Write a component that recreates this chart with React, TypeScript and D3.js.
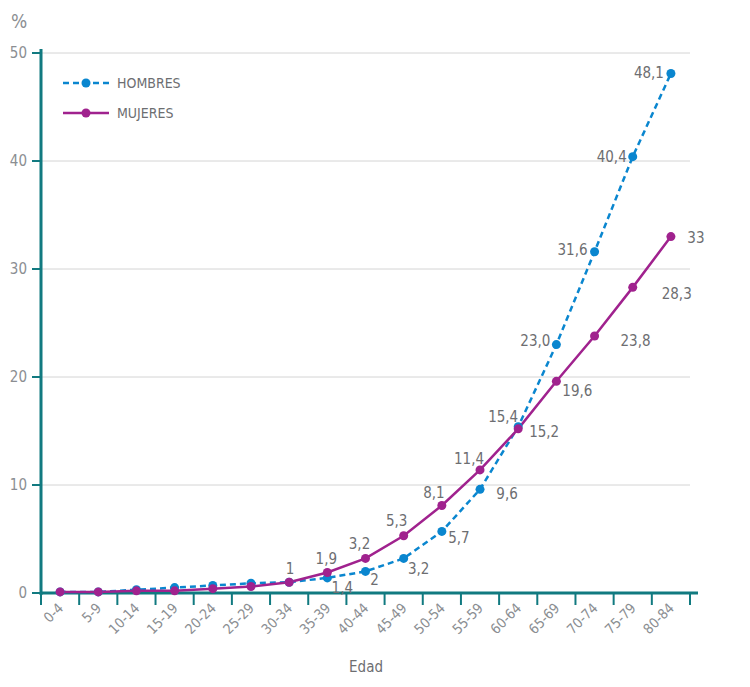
import * as d3 from 'd3'

const ageGroups = ['0-4', '5-9', '10-14', '15-19', '20-24', '25-29', '30-34', '35-39', '40-44', '45-49', '50-54', '55-59', '60-64', '65-69', '70-74', '75-79', '80-84']
const hombres = [0.1, 0.1, 0.3, 0.5, 0.7, 0.9, 1.0, 1.4, 2, 3.2, 5.7, 9.6, 15.4, 23.0, 31.6, 40.4, 48.1]
const mujeres = [0.1, 0.1, 0.2, 0.2, 0.4, 0.6, 1, 1.9, 3.2, 5.3, 8.1, 11.4, 15.2, 19.6, 23.8, 28.3, 33]
// printed value labels ('' = no label shown)
const hombresLabels = ['', '', '', '', '', '', '', '1,4', '2', '3,2', '5,7', '9,6', '15,4', '23,0', '31,6', '40,4', '48,1']
const mujeresLabels = ['', '', '', '', '', '', '1', '1,9', '3,2', '5,3', '8,1', '11,4', '15,2', '19,6', '23,8', '28,3', '33']
const yTicks = [0, 10, 20, 30, 40, 50]

// label offsets from the point (hand placed in the original)
const hombresOffsets: [number, number][] = [[0, 0], [0, 0], [0, 0], [0, 0], [0, 0], [0, 0], [0, 0], [15, 10], [9, 8], [15, 10], [17, 6], [27, 4], [-15, -10], [-21, -4], [-22, -2], [-21, 0], [-22, -1]]
const mujeresOffsets: [number, number][] = [[0, 0], [0, 0], [0, 0], [0, 0], [0, 0], [0, 0], [1, -13], [-1, -14], [-6, -15], [-7, -15], [-8, -13], [-11, -11], [26, 3], [21, 9], [41, 5], [44, 6], [25, 1]]

const BLUE = '#0a86cf'
const PURPLE = '#a0228e'
const TEAL = '#117a80'
const GRID = '#d4d4d4'
const TEXT = '#6d6e71'
const TICK_TEXT = '#8b8e92'
const FONT = '"Liberation Sans Narrow", "DejaVu Sans Condensed", Roboto, sans-serif'

export default function App() {
  const width = 750
  const height = 687
  const margin = { top: 53, right: 60, bottom: 94, left: 41 }
  const plotRight = 690

  const x = d3.scaleBand<string>().domain(ageGroups).range([margin.left, plotRight]).paddingInner(0).paddingOuter(0)
  const y = d3.scaleLinear().domain([0, 50]).range([height - margin.bottom, margin.top])
  const cx = (i: number) => (x(ageGroups[i]) ?? 0) + x.bandwidth() / 2

  const line = d3
    .line<number>()
    .x((_, i) => cx(i))
    .y((d) => y(d))

  const y0 = y(0)
  const boundaries = ageGroups.map((g) => x(g) ?? 0).concat([plotRight])

  const series = [
    { name: 'HOMBRES', values: hombres, labels: hombresLabels, offsets: hombresOffsets, color: BLUE, dash: '6,4' },
    { name: 'MUJERES', values: mujeres, labels: mujeresLabels, offsets: mujeresOffsets, color: PURPLE, dash: undefined },
  ]

  return (
    <svg width={width} height={height} style={{ position: 'absolute', left: 0, top: 0 }} fontFamily={FONT}>
      {/* gridlines */}
      {yTicks.filter((t) => t > 0).map((t) => (
        <line key={t} x1={margin.left} x2={plotRight} y1={y(t)} y2={y(t)} stroke={GRID} strokeWidth={1} />
      ))}

      {/* y axis */}
      {yTicks.map((t) => (
        <g key={t}>
          <line x1={32} x2={margin.left} y1={y(t)} y2={y(t)} stroke={TEAL} strokeWidth={2} />
          <text x={27} y={y(t)} dy="0.35em" textAnchor="end" fontSize={15} fill={TICK_TEXT}>
            {t}
          </text>
        </g>
      ))}
      <text x={19} y={28} textAnchor="middle" fontSize={19} fill={TICK_TEXT}>%</text>
      <line x1={margin.left} x2={margin.left} y1={49} y2={y0 + 2} stroke={TEAL} strokeWidth={3} />

      {/* x axis */}
      <line x1={margin.left - 1} x2={698} y1={y0} y2={y0} stroke={TEAL} strokeWidth={3} />
      {boundaries.map((b, i) => (
        <line key={i} x1={b} x2={b} y1={y0} y2={y0 + 12} stroke={TEAL} strokeWidth={2} />
      ))}
      {ageGroups.map((g, i) => (
        <text
          key={g}
          transform={`translate(${cx(i) + 4},${y0 + 16}) rotate(-45)`}
          textAnchor="end"
          fontSize={14}
          fill={TICK_TEXT}
        >
          {g}
        </text>
      ))}
      <text x={366} y={672} textAnchor="middle" fontSize={15} fill={TEXT}>Edad</text>

      {/* lines */}
      {series.map((s) => (
        <path key={s.name} d={line(s.values) ?? ''} fill="none" stroke={s.color} strokeWidth={2.5} strokeDasharray={s.dash} />
      ))}
      {series.map((s) =>
        s.values.map((v, i) => <circle key={s.name + i} cx={cx(i)} cy={y(v)} r={4.5} fill={s.color} />)
      )}

      {/* value labels */}
      {series.map((s) =>
        s.values.map((v, i) =>
          s.labels[i] ? (
            <text
              key={'l' + s.name + i}
              x={cx(i) + s.offsets[i][0]}
              y={y(v) + s.offsets[i][1]}
              dy="0.35em"
              textAnchor="middle"
              fontSize={15}
              fill={TEXT}
            >
              {s.labels[i]}
            </text>
          ) : null
        )
      )}

      {/* legend */}
      {series.map((s, i) => (
        <g key={'lg' + s.name} transform={`translate(63,${83 + i * 30})`}>
          <line x1={0} x2={46} y1={0} y2={0} stroke={s.color} strokeWidth={2.5} strokeDasharray={s.dash} />
          <circle cx={23} cy={0} r={4.5} fill={s.color} />
          <text x={54} y={0} dy="0.35em" fontSize={14} fill={TEXT}>{s.name}</text>
        </g>
      ))}
    </svg>
  )
}
